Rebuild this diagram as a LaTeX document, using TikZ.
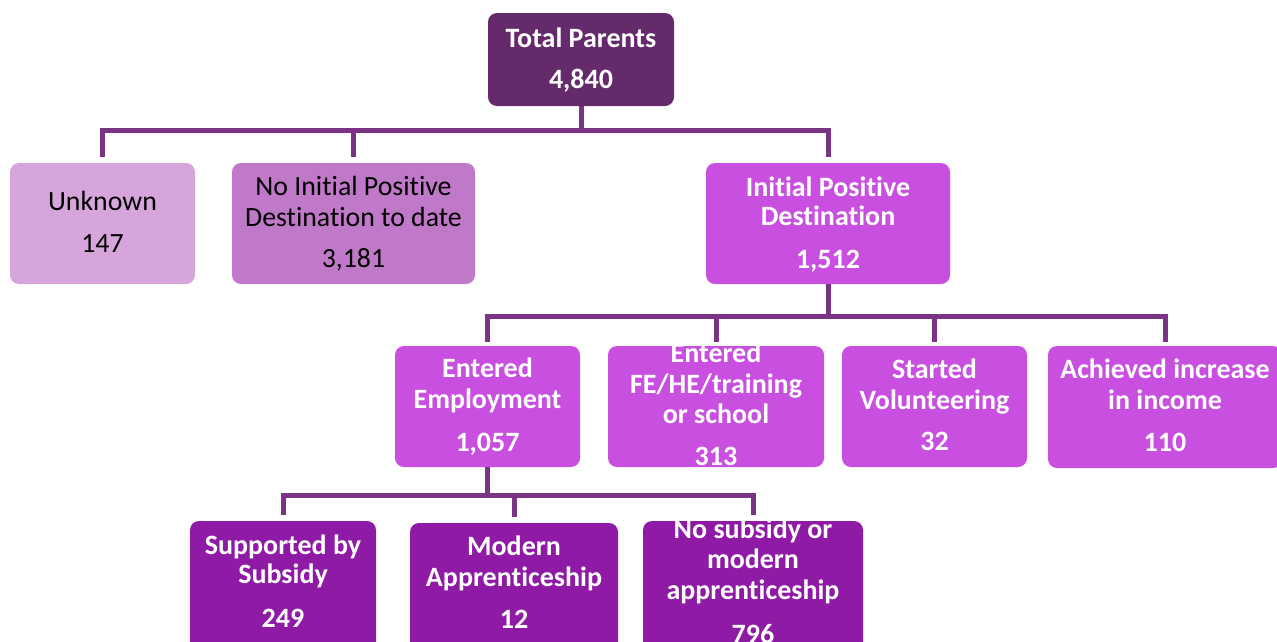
\documentclass[tikz,border=0pt]{standalone}
\usepackage{fontspec}
\setmainfont{Carlito}[Ligatures=NoCommon]
\definecolor{topfill}{HTML}{652A6C}
\definecolor{unkfill}{HTML}{D6A5DC}
\definecolor{nofill}{HTML}{C078C8}
\definecolor{posfill}{HTML}{C94FE1}
\definecolor{empfill}{HTML}{8E1AA6}
\definecolor{linkcol}{HTML}{7A3385}
\tikzset{
  box/.style={rounded corners=9pt, inner sep=0pt, draw=none},
  boldtxt/.style={anchor=base, inner sep=0pt, text=white, font=\fontsize{28}{30}\selectfont\bfseries},
  plaintxt/.style={anchor=base, inner sep=0pt, text=black, font=\fontsize{27.8}{30}\selectfont},
  link/.style={draw=linkcol, line width=5pt, line join=miter},
}
\newcommand{\boxat}[6]{% name, fill, x1, y1, x2, y2
  \node[box, fill=#2, minimum width={(#5-#3)*1pt}, minimum height={(#6-#4)*1pt}]
    (#1) at ({(#3+#5)/2},{(#4+#6)/2}) {};}
\begin{document}
\begin{tikzpicture}[x=1pt,y=-1pt]
\useasboundingbox[fill=white] (0,0) rectangle (1277,641);

% ---- boxes ----
\boxat{total}{topfill}{488}{13}{674}{106}
\boxat{unk}{unkfill}{10}{163}{195}{284}
\boxat{nopos}{nofill}{232}{163}{475}{284}
\boxat{pos}{posfill}{706}{163}{950}{284}
\boxat{emp}{posfill}{395}{346}{580}{467}
\boxat{edu}{posfill}{608}{346}{824}{467}
\boxat{vol}{posfill}{842}{346}{1027}{467}
\boxat{inc}{posfill}{1048}{346}{1282}{468}
\boxat{sub}{empfill}{190}{521}{376}{660}
\boxat{app}{empfill}{410}{523}{618}{660}
\boxat{none}{empfill}{643}{521}{863}{660}

% ---- connectors ----
\coordinate (bus1) at (583,130);
\coordinate (bus2) at (828,316);
\coordinate (bus3) at (487,495);

\draw[link] (total.south) -- (total.south |- bus1);
\draw[link] ([yshift=6pt]unk.north) -- (bus1 -| unk.north) -- (bus1 -| pos.north) -- ([yshift=6pt]pos.north);
\draw[link] (bus1 -| nopos.north) -- ([yshift=6pt]nopos.north);

\draw[link] (pos.south) -- (pos.south |- bus2);
\draw[link] ([yshift=4pt]emp.north) -- (bus2 -| emp.north) -- (bus2 -| inc.north) -- ([yshift=4pt]inc.north);
\draw[link] (bus2 -| edu.north) -- ([yshift=4pt]edu.north);
\draw[link] (bus2 -| vol.north) -- ([yshift=4pt]vol.north);

\draw[link] (emp.south) -- (emp.south |- bus3);
\draw[link] ([yshift=6pt]sub.north) -- (bus3 -| sub.north) -- (bus3 -| none.north) -- ([yshift=6pt]none.north);
\draw[link] (bus3 -| app.north) -- ([yshift=6pt]app.north);

% ---- texts ----
\node[boldtxt] (total1) at (581,47) {Total Parents};
\node[boldtxt] (total2) at (581,88) {4,840};

\node[plaintxt] (unk1) at (102.5,210) {Unknown};
\node[plaintxt] (unk2) at (102.5,252) {147};

\node[plaintxt] (nopos1) at (353.5,195) {No Initial Positive};
\node[plaintxt] (nopos2) at (353.5,226) {Destination to date};
\node[plaintxt] (nopos3) at (353.5,267) {3,181};

\node[boldtxt] (pos1) at (828,196) {Initial Positive};
\node[boldtxt] (pos2) at (828,225) {Destination};
\node[boldtxt] (pos3) at (828,268) {1,512};

\node[boldtxt] (emp1) at (487.5,377) {Entered};
\node[boldtxt] (emp2) at (487.5,408) {Employment};
\node[boldtxt] (emp3) at (487.5,451) {1,057};

\node[boldtxt] (edu1) at (716,362) {Entered};
\node[boldtxt] (edu2) at (716,393) {FE/HE/training};
\node[boldtxt] (edu3) at (716,423) {or school};
\node[boldtxt] (edu4) at (716,465) {313};

\node[boldtxt] (vol1) at (934.5,378) {Started};
\node[boldtxt] (vol2) at (934.5,409) {Volunteering};
\node[boldtxt] (vol3) at (934.5,450) {32};

\node[boldtxt] (inc1) at (1165,378) {Achieved increase};
\node[boldtxt] (inc2) at (1165,409) {in income};
\node[boldtxt] (inc3) at (1165,451) {110};

\node[boldtxt] (sub1) at (283,554) {Supported by};
\node[boldtxt] (sub2) at (283,583) {Subsidy};
\node[boldtxt] (sub3) at (283,627) {249};

\node[boldtxt] (app1) at (514,555) {Modern};
\node[boldtxt] (app2) at (514,586) {Apprenticeship};
\node[boldtxt] (app3) at (514,628) {12};

\node[boldtxt] (none1) at (753,538) {No subsidy or};
\node[boldtxt] (none2) at (753,568) {modern};
\node[boldtxt] (none3) at (753,599) {apprenticeship};
\node[boldtxt] (none4) at (753,643) {796};
\end{tikzpicture}
\end{document}
